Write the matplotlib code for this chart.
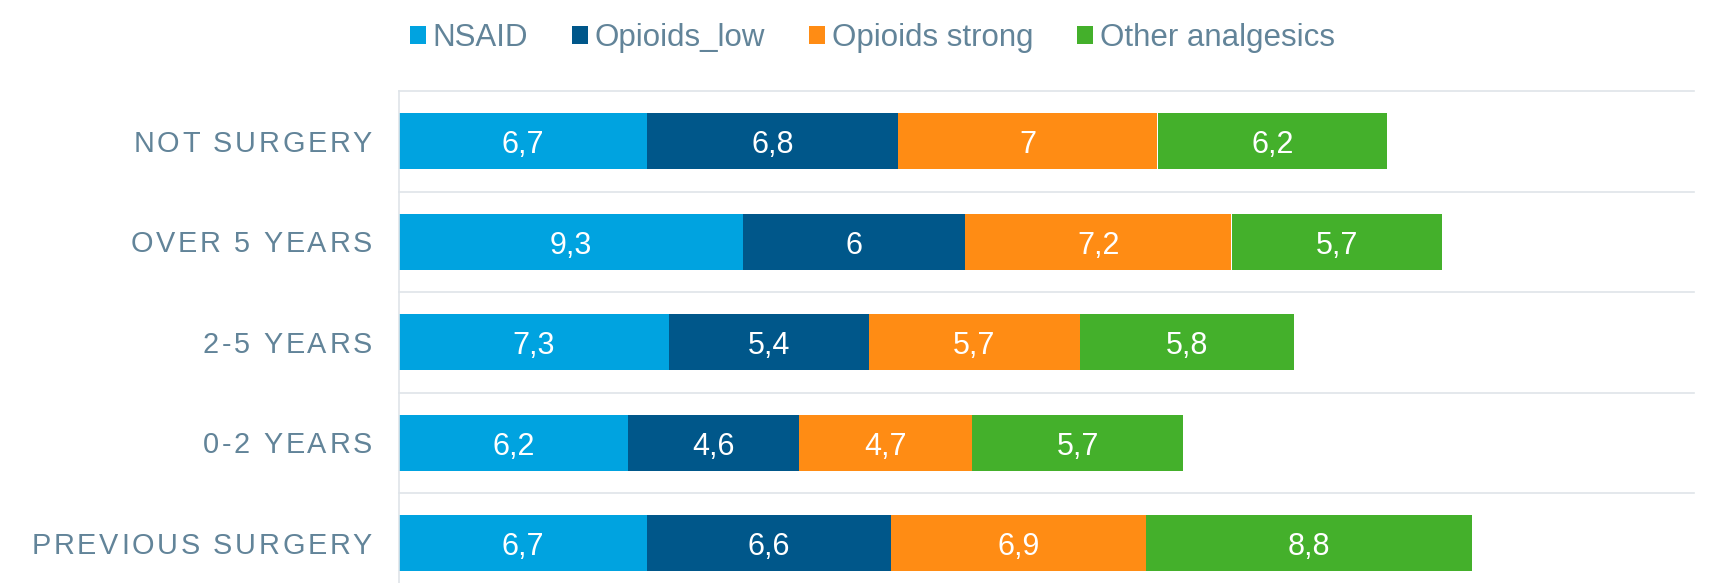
import matplotlib
matplotlib.use("Agg")
import matplotlib.pyplot as plt
import matplotlib.transforms as mtransforms
from matplotlib.patches import Patch
from matplotlib.font_manager import FontProperties, findfont, get_font
from matplotlib.ft2font import LOAD_NO_HINTING

# ---------------- data ----------------
categories = ["NOT SURGERY", "OVER 5 YEARS", "2-5 YEARS", "0-2 YEARS", "PREVIOUS SURGERY"]
series_names = ["NSAID", "Opioids_low", "Opioids strong", "Other analgesics"]
nsaid = [6.7, 9.3, 7.3, 6.2, 6.7]
opioids_low = [6.8, 6.0, 5.4, 4.6, 6.6]
opioids_strong = [7.0, 7.2, 5.7, 4.7, 6.9]
other_analgesics = [6.2, 5.7, 5.8, 5.7, 8.8]
series_values = [nsaid, opioids_low, opioids_strong, other_analgesics]

# ---------------- style ----------------
colors = ["#00a3e0", "#00578a", "#ff8c14", "#44b02b"]
label_color = "#628499"
grid_color = "#dfe4e9"
plt.rcParams["font.family"] = ["Liberation Sans", "DejaVu Sans"]

W, H, DPI = 1712, 583, 100
fig = plt.figure(figsize=(W / DPI, H / DPI), dpi=DPI)
ax_left_px, ax_right_px = 399, 1694
ax_top_px, ax_bot_px = 91, 593.5
ax = fig.add_axes([ax_left_px / W, (H - ax_bot_px) / H,
                   (ax_right_px - ax_left_px) / W, (ax_bot_px - ax_top_px) / H])

ypos = list(range(len(categories)))
lefts = [0.0] * len(categories)
for vals, col in zip(series_values, colors):
    ax.barh(ypos, vals, left=lefts, height=0.56, color=col, zorder=2)
    for i, v in enumerate(vals):
        ax.annotate(f"{v:g}".replace(".", ","), xy=(lefts[i] + v / 2, i),
                    xytext=(0, -8.8), textcoords="offset points",
                    ha="center", va="baseline", color="white", fontsize=22, zorder=3)
    lefts = [l + v for l, v in zip(lefts, vals)]

ax.set_xlim(0, 35)
ax.set_ylim(len(categories) - 0.5, -0.5)
ax.set_xticks([])
ax.set_yticks([])
for s in ["top", "right", "bottom"]:
    ax.spines[s].set_visible(False)
ax.spines["left"].set_color(grid_color)
ax.spines["left"].set_linewidth(1.2)
for yy in [k - 0.5 for k in range(len(categories))]:
    ax.axhline(yy, color=grid_color, lw=1.2, zorder=1, clip_on=False)

# ---------------- letter-spaced category labels ----------------
label_fs = 20.8
fp = FontProperties(family=["Liberation Sans"], size=label_fs)
font = get_font(findfont(fp))
font.set_size(label_fs, DPI)
px_per_pt = DPI / 72.0
spacing_px = 2.7
right_px = 372
cap_px = 0.716 * label_fs * px_per_pt
trans_base = mtransforms.blended_transform_factory(fig.transFigure, ax.transData)
trans = mtransforms.offset_copy(trans_base, fig=fig, x=0, y=-cap_px / 2 / px_per_pt, units="points")

def advance(c):
    g = font.load_char(ord(c), flags=LOAD_NO_HINTING)
    return g.linearHoriAdvance / 65536.0

for i, lab in enumerate(categories):
    adv = [advance(c) for c in lab]
    total = sum(adv) + spacing_px * (len(lab) - 1)
    x = right_px - total
    for c, a in zip(lab, adv):
        if c != " ":
            fig.text(x / W, i, c, transform=trans, ha="left", va="baseline",
                     fontsize=label_fs, color=label_color, family=["Liberation Sans"])
        x += a + spacing_px

# ---------------- legend ----------------
handles = [Patch(facecolor=c, edgecolor="none") for c in colors]
fig.legend(handles, series_names, loc="center", bbox_to_anchor=(0.5096, 0.935),
           ncol=4, frameon=False, fontsize=22.5, handlelength=0.51, handleheight=0.51,
           handletextpad=0.22, columnspacing=1.4, labelcolor=label_color,
           borderpad=0, borderaxespad=0)

fig.savefig("out.png", dpi=DPI)
